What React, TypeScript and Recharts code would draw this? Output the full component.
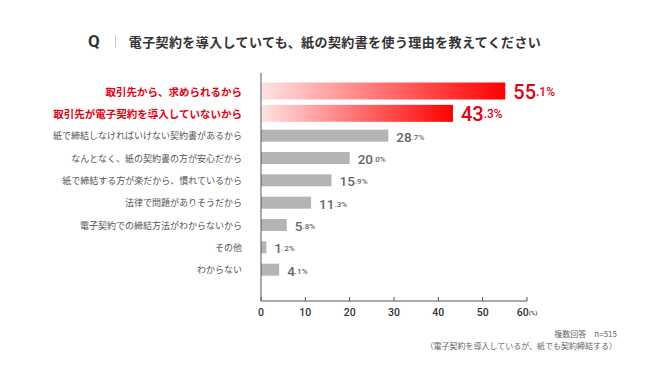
import { BarChart, Bar, XAxis, YAxis, Cell, LabelList } from 'recharts';

const reasons = [
  '取引先から、求められるから',
  '取引先が電子契約を導入していないから',
  '紙で締結しなければいけない契約書があるから',
  'なんとなく、紙の契約書の方が安心だから',
  '紙で締結する方が楽だから、慣れているから',
  '法律で問題がありそうだから',
  '電子契約での締結方法がわからないから',
  'その他',
  'わからない',
];
const shares = [55.1, 43.3, 28.7, 20.0, 15.9, 11.3, 5.8, 1.2, 4.1];
const highlighted = [true, true, false, false, false, false, false, false, false];
const xTicks = [0, 10, 20, 30, 40, 50, 60];

const rows = reasons.map((reason, i) => ({
  reason,
  share: shares[i],
  hot: highlighted[i],
}));

const FONT = '"Noto Sans CJK JP", "Noto Sans", sans-serif';
const NUM_FONT = 'Roboto, "Noto Sans", sans-serif';
const RED = '#e60012';

function ReasonTick({ x, y, payload }: any) {
  const hot = highlighted[reasons.indexOf(payload.value)];
  return (
    <text
      x={x - 11}
      y={y}
      textAnchor="end"
      dominantBaseline="central"
      fontFamily={FONT}
      fontSize={hot ? 10.5 : 9}
      fontWeight={hot ? 700 : 400}
      fill={hot ? RED : '#555'}
    >
      {payload.value}
    </text>
  );
}

function PercentTick({ x, y, payload }: any) {
  return (
    <text x={x} y={y} textAnchor="middle" dominantBaseline="central" fontFamily={NUM_FONT} fontWeight={500} fill="#333">
      <tspan fontSize={10.5}>{payload.value}</tspan>
      {payload.value === 60 && <tspan fontSize={6}>(%)</tspan>}
    </text>
  );
}

function BarShape({ x, y, width, height, index }: any) {
  const hot = highlighted[index];
  const grow = hot ? 2.5 : 0;
  return (
    <rect
      x={x}
      y={y - grow}
      width={width}
      height={height + grow * 2}
      fill={hot ? 'url(#hotGrad)' : '#b4b4b4'}
    />
  );
}

function ValueLabel({ x, y, width, height, value, index }: any) {
  const hot = highlighted[index];
  const [whole, dec] = Number(value).toFixed(1).split('.');
  return (
    <text
      x={x + width + 8}
      y={y + height / 2 + 1}
      dominantBaseline="central"
      fontFamily={NUM_FONT}
      fontWeight={500}
      fill={hot ? RED : '#666'}
    >
      <tspan fontSize={hot ? 20 : 13.5}>{whole}</tspan>
      <tspan fontSize={hot ? 12 : 8}>.{dec}%</tspan>
    </text>
  );
}

export default function App() {
  return (
    <div style={{ position: 'absolute', left: 0, top: 0, width: 650, height: 384, background: '#fff', fontFamily: FONT }}>
      <div style={{ position: 'absolute', left: 88, top: 31, display: 'flex', alignItems: 'center', color: '#333' }}>
        <span style={{ fontSize: 17, fontWeight: 700, fontFamily: 'Roboto, sans-serif' }}>Q</span>
        <span style={{ display: 'inline-block', width: 1, height: 13, background: '#ccc', margin: '0 13px 0 15px' }} />
        <span style={{ fontSize: 13, fontWeight: 700, letterSpacing: 0.4 }}>
          電子契約を導入していても、紙の契約書を使う理由を教えてください
        </span>
      </div>

      <BarChart
        width={650}
        height={384}
        data={rows}
        layout="vertical"
        margin={{ top: 73, right: 123, bottom: 53, left: 0 }}
        barSize={12}
      >
        <defs>
          <linearGradient id="hotGrad" x1="0" y1="0" x2="1" y2="0">
            <stop offset="0%" stopColor="#ffe3e3" />
            <stop offset="100%" stopColor="#ff0000" />
          </linearGradient>
        </defs>
        <XAxis
          type="number"
          domain={[0, 60]}
          ticks={xTicks}
          height={30}
          stroke="#555"
          tickSize={-4}
          tickMargin={15}
          tick={<PercentTick />}
        />
        <YAxis
          type="category"
          dataKey="reason"
          width={261}
          padding={{ top: 7, bottom: 20 }}
          stroke="#555"
          tickLine={false}
          tick={<ReasonTick />}
          interval={0}
        />
        <Bar dataKey="share" isAnimationActive={false} shape={<BarShape />}>
          {rows.map((r, i) => (
            <Cell key={i} fill={r.hot ? 'url(#hotGrad)' : '#b4b4b4'} />
          ))}
          <LabelList dataKey="share" content={<ValueLabel />} />
        </Bar>
      </BarChart>

      <div style={{ position: 'absolute', right: 33, top: 328, textAlign: 'right', fontSize: 8, color: '#666', lineHeight: '12px' }}>
        <div>複数回答　n=515</div>
        <div>（電子契約を導入しているが、紙でも契約締結する）</div>
      </div>
    </div>
  );
}
